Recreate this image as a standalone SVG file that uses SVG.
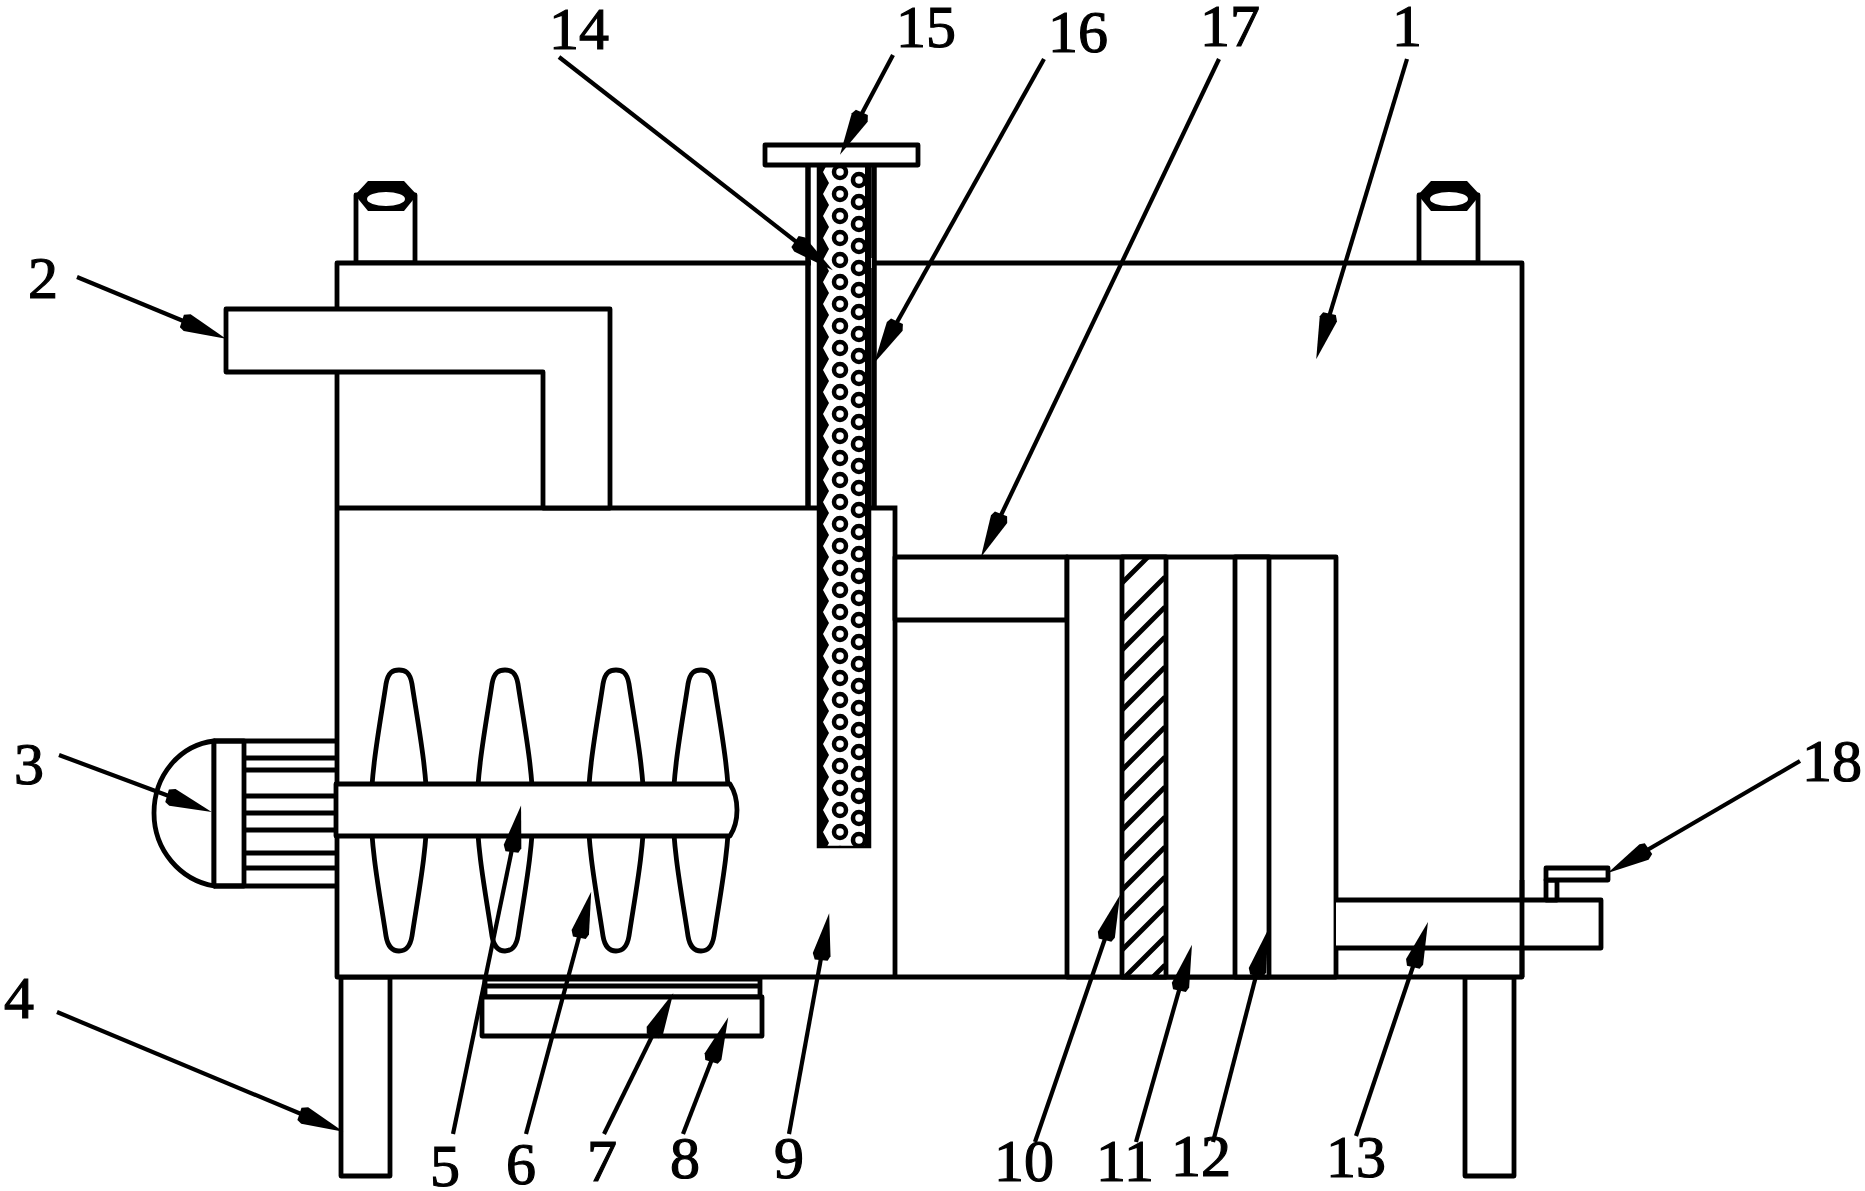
<svg xmlns="http://www.w3.org/2000/svg" width="1865" height="1191" viewBox="0 0 1865 1191">
<style>
.s{fill:#fff;stroke:#000;stroke-width:4.8;stroke-linejoin:round}
.o{fill:none;stroke:#000;stroke-width:4.8}
.h{fill:none;stroke:#000;stroke-width:4.8}
.l{fill:none;stroke:#000;stroke-width:4.2;marker-end:url(#head)}
text{font-family:"Liberation Serif","Times New Roman",serif;font-size:60px;fill:#000;stroke:#000;stroke-width:1.2;text-anchor:middle}
</style>
<defs>
<marker id="head" markerUnits="userSpaceOnUse" markerWidth="60" markerHeight="30" refX="28" refY="0" orient="auto" overflow="visible">
<path d="M48,0L6,-9L0,-6L1,7L6,9Z" fill="#000"/>
</marker>
<path id="blade" class="s" d="M-13,684C-11,672-6,670 0,670C6,670 11,672 13,684C19,724 28,770 28,810C28,850 19,896 13,936C11,948 6,951 0,951C-6,951-11,948-13,936C-19,896-28,850-28,810C-28,770-19,724-13,684Z"/>
<g id="cap">
<rect class="s" x="0" y="195" width="59" height="68"/>
<path d="M-1,195L12,181H48L61,195L48,211H12Z" fill="#000"/>
<ellipse cx="30" cy="199" rx="19" ry="7" fill="#fff"/>
</g>
<pattern id="perf" patternUnits="userSpaceOnUse" x="818" y="161" width="52" height="22">
<rect width="52" height="22" fill="#fff"/>
<path d="M0,0H11L5,11L11,22H0Z" fill="#000"/>
<rect x="47" width="5" height="22" fill="#000"/>
<circle cx="22" cy="11" r="6" fill="#fff" stroke="#000" stroke-width="4.5"/>
<circle cx="41" cy="19" r="6" fill="#fff" stroke="#000" stroke-width="4.5"/>
<circle cx="41" cy="-3" r="6" fill="#fff" stroke="#000" stroke-width="4.5"/>
</pattern>
<clipPath id="hc"><rect x="1124" y="559" width="40" height="416"/></clipPath>
</defs>
<rect width="1865" height="1191" fill="#fff"/>

<g id="node-pipes">
<use href="#cap" x="356"/>
<use href="#cap" x="1419"/>
</g>
<g id="node-legs">
<rect class="s" x="341" y="977" width="49" height="199"/>
<rect class="s" x="1465" y="977" width="49" height="199"/>
</g>
<g id="node-1">
<rect class="s" x="337" y="263" width="1185" height="714"/>
</g>
<g id="node-chamber">
<path class="o" d="M337,508H895V977"/>
</g>
<g id="node-2">
<path class="s" d="M226,309H610V508H543V372H226Z"/>
</g>
<g id="node-sleeve">
<path class="s" d="M808,166V508M874,166V508" style="stroke-width:5.5"/>
<rect x="811" y="258" width="61" height="10" fill="#fff"/>
</g>
<g id="node-strip">
<rect x="818" y="165" width="52" height="682" fill="url(#perf)" stroke="#000" stroke-width="2.5"/>
</g>
<g id="node-15">
<rect class="s" x="765" y="145" width="153" height="20"/>
</g>
<g id="node-17">
<rect class="s" x="895" y="557" width="172" height="63"/>
</g>
<g id="node-filter">
<rect class="s" x="1067" y="557" width="269" height="420"/>
<rect class="s" x="1235" y="557" width="34" height="420"/>
<rect class="s" x="1122" y="557" width="44" height="420"/>
<g clip-path="url(#hc)" class="h">
<path d="M1165,540L1120,585M1165,577L1120,622M1165,607L1120,652M1165,637L1120,682M1165,667L1120,712M1165,697L1120,742M1165,727L1120,772M1165,757L1120,802M1165,787L1120,832M1165,817L1120,862M1165,847L1120,892M1165,877L1120,922M1165,907L1120,952M1165,937L1120,982M1165,965L1140,990"/>
</g>
</g>
<g id="node-13">
<path class="s" d="M1336,900H1601V948H1336"/>
<path class="o" d="M1522,880V977"/>
</g>
<g id="node-18">
<rect class="s" x="1546" y="880" width="11" height="20"/>
<rect class="s" x="1546" y="868" width="62" height="12"/>
</g>
<g id="node-blades">
<use href="#blade" x="399"/>
<use href="#blade" x="505"/>
<use href="#blade" x="616"/>
<use href="#blade" x="701"/>
</g>
<g id="node-5">
<path class="s" d="M336,784H730Q737,795 737,810Q737,825 730,836H336Z"/>
</g>
<g id="node-3">
<path class="s" d="M214,741C180,745 154,775 154,813C154,850 180,880 214,886Z"/>
<rect class="s" x="214" y="741" width="30" height="145"/>
<path class="o" d="M214,741H336M244,758H336M244,770H336M244,796H336M244,813H336M244,830H336M244,853H336M244,868H336M214,886H336"/>
</g>
<g id="node-8">
<rect class="s" x="485" y="979" width="275" height="18"/>
<rect class="s" x="482" y="997" width="280" height="39"/>
<path class="o" d="M485,986H760"/>
</g>

<g id="connectors">
<path class="l" d="M1407,59L1322,340"/>
<path class="l" d="M77,277L207.500,331"/>
<path class="l" d="M59,755L193,805"/>
<path class="l" d="M57,1012L325,1124"/>
<path class="l" d="M453,1134L517,825"/>
<path class="l" d="M526,1134L586,911"/>
<path class="l" d="M604,1134L664.500,1011"/>
<path class="l" d="M683,1134L721,1036"/>
<path class="l" d="M789,1134L825.600,933"/>
<path class="l" d="M1035,1142L1113.500,914"/>
<path class="l" d="M1136,1142L1186.500,964"/>
<path class="l" d="M1213,1142L1263,949"/>
<path class="l" d="M1356,1136L1421.600,941"/>
<path class="l" d="M559,57L817,258"/>
<path class="l" d="M893,55L849.400,137"/>
<path class="l" d="M1044,59L884,345.500"/>
<path class="l" d="M1219,59L989.600,539"/>
<path class="l" d="M1800,761L1625,863"/>
</g>

<g id="labels">
<text x="1407" y="46">1</text>
<text x="43" y="298">2</text>
<text x="29" y="784">3</text>
<text x="19" y="1018">4</text>
<text x="445" y="1186">5</text>
<text x="521" y="1184">6</text>
<text x="602" y="1181">7</text>
<text x="685" y="1178">8</text>
<text x="789" y="1178">9</text>
<text x="1024" y="1181">10</text>
<text x="1125" y="1181">11</text>
<text x="1201" y="1176">12</text>
<text x="1356" y="1177">13</text>
<text x="579" y="49">14</text>
<text x="926" y="47">15</text>
<text x="1078" y="52">16</text>
<text x="1230" y="46">17</text>
<text x="1832" y="781">18</text>
</g>
</svg>
